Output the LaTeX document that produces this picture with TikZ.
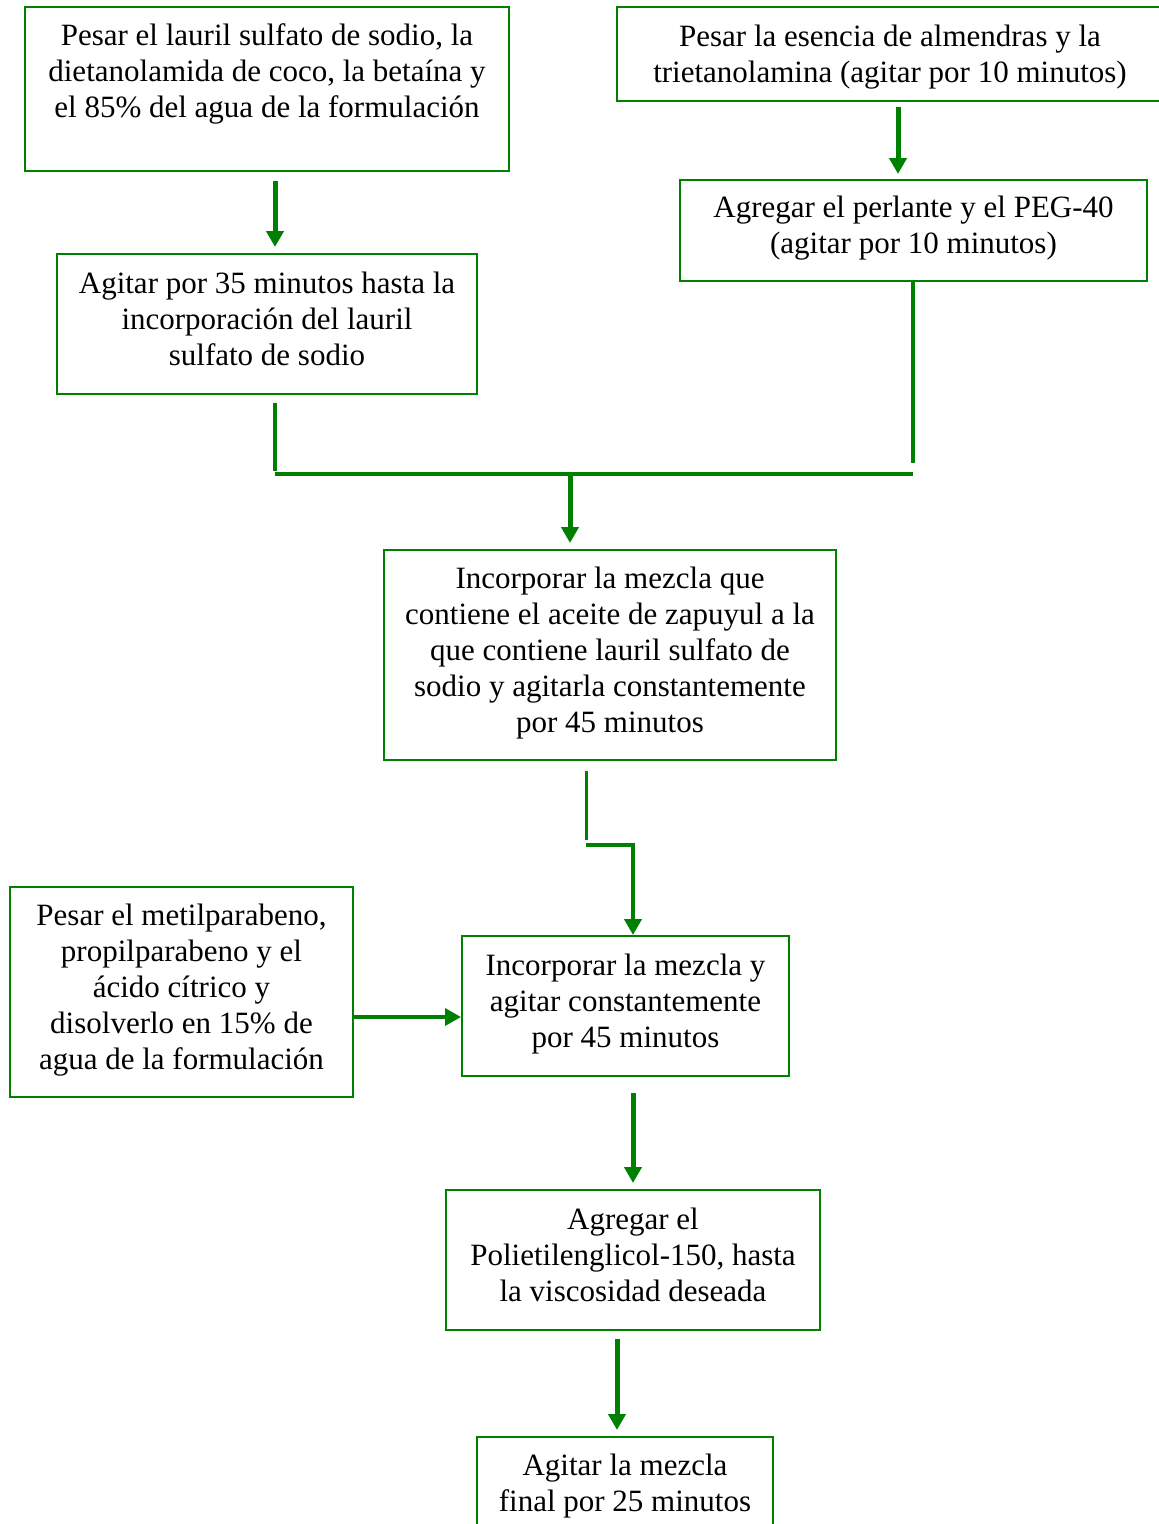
\documentclass[tikz,border=0pt]{standalone}
\usepackage{fontspec}
\setmainfont{Liberation Serif}
\usetikzlibrary{arrows.meta}
\definecolor{verde}{RGB}{0,128,0}
\newcommand{\alto}{\rule{0pt}{32pt}}
\tikzset{
  caja/.style={draw=verde,line width=2pt,align=center,inner sep=4pt,
    font=\fontsize{31pt}{36pt}\selectfont,execute at end node=\strut},
  linea/.style={draw=verde,line width=3.5pt},
  flecha/.style={draw=verde,line width=5pt,
    -{Triangle[length=16pt,width=17pt]}},
  gap/.style={shorten <=#1}
}

\begin{document}
\begin{tikzpicture}[x=1pt,y=-1pt]
    \useasboundingbox (0,0) rectangle (1159,1524);

    \node[caja,minimum width=484pt,minimum height=164pt] (lauril) at (267,89)
      {\alto Pesar el lauril sulfato de sodio, la\\dietanolamida de coco, la betaína y\\el 85\% del agua de la formulación\\ \mbox{}};
    \node[caja,minimum width=546pt,minimum height=94pt] (esencia) at (890,54)
      {\alto Pesar la esencia de almendras y la\\trietanolamina (agitar por 10 minutos)};
    \node[caja,minimum width=467pt,minimum height=101pt] (perlante) at (913.5,230.5)
      {Agregar el perlante y el PEG-40\\(agitar por 10 minutos)};
    \node[caja,minimum width=420pt,minimum height=140pt] (agitar) at (267,324)
      {Agitar por 35 minutos hasta la\\incorporación del lauril\\sulfato de sodio};
    \node[caja,minimum width=452pt,minimum height=210pt] (zapuyul) at (610,655)
      {Incorporar la mezcla que\\contiene el aceite de zapuyul a la\\que contiene lauril sulfato de\\sodio y agitarla constantemente\\por 45 minutos};
    \node[caja,minimum width=343pt,minimum height=210pt] (parabeno) at (181.5,992)
      {Pesar el metilparabeno,\\propilparabeno y el\\ácido cítrico y\\disolverlo en 15\% de\\agua de la formulación};
    \node[caja,minimum width=327pt,minimum height=140pt] (mezcla) at (625.5,1006)
      {Incorporar la mezcla y\\agitar constantemente\\por 45 minutos};
    \node[caja,minimum width=374pt,minimum height=140pt] (peg) at (633,1260)
      {Agregar el\\Polietilenglicol-150, hasta\\la viscosidad deseada};
    \node[caja,minimum width=296pt,minimum height=92pt] (final) at (625,1483)
      {\alto Agitar la mezcla\\final por 25 minutos};

    \coordinate (izq) at (275,474);
    \coordinate (der) at (913,474);
    \coordinate (junta) at (570,474);
    \coordinate (codo1) at (586,840);
    \coordinate (codo2) at (633,845);

    \draw[flecha,gap=9pt,shorten >=6pt] ([xshift=8pt]lauril.south) -- ([xshift=8pt]agitar.north);
    \draw[flecha,gap=5pt,shorten >=5pt] ([xshift=8pt]esencia.south) -- ([xshift=8pt]esencia.south |- perlante.north);

    \draw[linea,gap=8pt,shorten >=3pt] ([xshift=8pt]agitar.south) -- (izq);
    \draw[linea,gap=-2pt,shorten >=11pt] (perlante.south -| der) -- (der);
    \draw[linea] (izq) -- (der);
    \draw[flecha,shorten >=6pt] (junta) -- (zapuyul.north -| junta);

    \draw[linea,line width=3pt,gap=10pt] ([xshift=-24pt]zapuyul.south) -- (codo1);
    \draw[flecha,line width=4.5pt] (codo1 |- codo2) -- (codo2) -- (mezcla.north -| codo2);

    \draw[flecha,line width=3.5pt] ([yshift=-25pt]parabeno.east) -- ([yshift=-25pt]parabeno.east -| mezcla.west);
    \draw[flecha,gap=16pt,shorten >=6pt] (peg.north |- mezcla.south) -- (peg.north);
    \draw[flecha,gap=8pt,shorten >=6pt] ([xshift=-16pt]peg.south) -- ([xshift=-16pt]peg.south |- final.north);
\end{tikzpicture}
\end{document}
